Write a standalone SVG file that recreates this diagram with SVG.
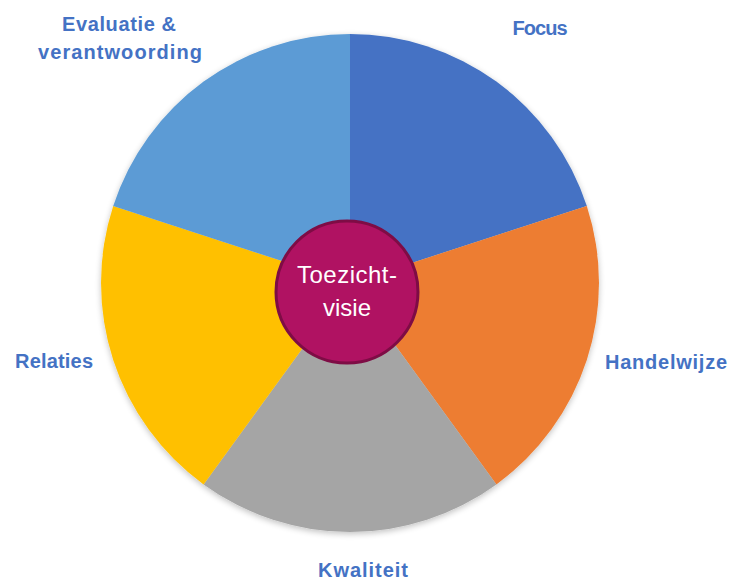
<svg xmlns="http://www.w3.org/2000/svg" width="731" height="582" viewBox="0 0 731 582">
  <defs>
    <filter id="shadow" x="-10%" y="-10%" width="120%" height="120%">
      <feGaussianBlur in="SourceAlpha" stdDeviation="3"/>
      <feOffset dx="0" dy="2" result="b"/>
      <feComponentTransfer><feFuncA type="linear" slope="0.25"/></feComponentTransfer>
      <feMerge><feMergeNode/><feMergeNode in="SourceGraphic"/></feMerge>
    </filter>
  </defs>
  <style>
    .label { font-family: "Liberation Sans", Arial, sans-serif; font-weight: bold; font-size: 20px; fill: #4472C4; text-anchor: middle; }
    .center { font-family: "Liberation Sans", Arial, sans-serif; font-size: 24px; fill: #FFFFFF; text-anchor: middle; }
  </style>
  <rect width="731" height="582" fill="#FFFFFF"/>
  <g id="pie" filter="url(#shadow)">
    <g id="focus"><path d="M350,283 L350,34 A249,249 0 0 1 586.8,206.1 Z" fill="#4472C4"/></g>
    <g id="handelwijze"><path d="M350,283 L586.8,206.1 A249,249 0 0 1 496.4,484.4 Z" fill="#ED7D31"/></g>
    <g id="kwaliteit"><path d="M350,283 L496.4,484.4 A249,249 0 0 1 203.6,484.4 Z" fill="#A5A5A5"/></g>
    <g id="relaties"><path d="M350,283 L203.6,484.4 A249,249 0 0 1 113.2,206.1 Z" fill="#FFC000"/></g>
    <g id="evaluatie"><path d="M350,283 L113.2,206.1 A249,249 0 0 1 350,34 Z" fill="#5B9BD5"/></g>
  </g>
  <g id="toezichtvisie">
    <circle cx="347" cy="292" r="71" fill="#B01262" stroke="#7E0C45" stroke-width="3"/>
    <text class="center" x="347" y="283" textLength="100">Toezicht-</text>
    <text class="center" x="347" y="316">visie</text>
  </g>
  <g id="labels">
    <text class="label" x="540" y="35" textLength="55">Focus</text>
    <text class="label" x="666" y="369" textLength="122">Handelwijze</text>
    <text class="label" x="363" y="577" textLength="90">Kwaliteit</text>
    <text class="label" x="54" y="368" textLength="78">Relaties</text>
    <text class="label" x="119" y="31" textLength="114">Evaluatie &amp;</text>
    <text class="label" x="120" y="59" textLength="164">verantwoording</text>
  </g>
  <g id="connectors"/>
</svg>
